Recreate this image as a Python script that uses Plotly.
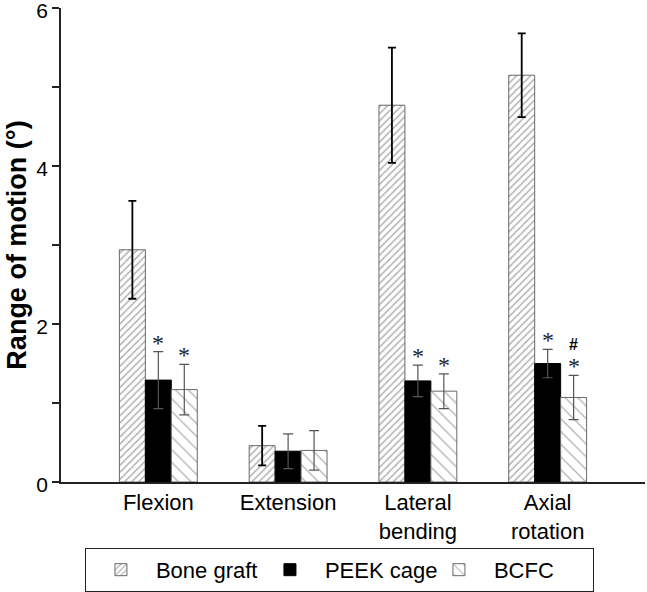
import plotly.graph_objects as go

categories = ["Flexion", "Extension", "Lateral<br>bending", "Axial<br>rotation"]
series_names = ["Bone graft", "PEEK cage", "BCFC"]
bone_graft = [2.94, 0.46, 4.77, 5.15]
bone_graft_err = [0.62, 0.25, 0.73, 0.53]
peek_cage = [1.29, 0.39, 1.28, 1.50]
peek_cage_err = [0.36, 0.22, 0.20, 0.18]
bcfc = [1.17, 0.40, 1.15, 1.07]
bcfc_err = [0.32, 0.25, 0.22, 0.28]
# significance marks: (series index, category index)
star_marks = [(1, 0), (2, 0), (1, 2), (2, 2), (1, 3), (2, 3)]
hash_marks = [(2, 3)]
y_ticks = [0, 2, 4, 6]

FONT = "Liberation Sans, Arial, sans-serif"
xi = list(range(len(categories)))

fig = go.Figure()
fig.add_trace(go.Bar(
    name=series_names[0], x=xi, y=bone_graft,
    marker=dict(color="white", line=dict(color="#6a6a6a", width=1),
                pattern=dict(shape="/", fgcolor="#666666", bgcolor="white", size=5, solidity=0.3)),
    error_y=dict(type="data", array=bone_graft_err, color="black", thickness=1.8, width=4),
))
fig.add_trace(go.Bar(
    name=series_names[1], x=xi, y=peek_cage,
    marker=dict(color="black", line=dict(color="black", width=1)),
    error_y=dict(type="data", array=peek_cage_err, color="#555555", thickness=1.2, width=5),
))
fig.add_trace(go.Bar(
    name=series_names[2], x=xi, y=bcfc,
    marker=dict(color="white", line=dict(color="#6a6a6a", width=1),
                pattern=dict(shape="\\", fgcolor="#666666", bgcolor="white", size=9, solidity=0.15)),
    error_y=dict(type="data", array=bcfc_err, color="#555555", thickness=1.2, width=5),
))

vals = [bone_graft, peek_cage, bcfc]
errs = [bone_graft_err, peek_cage_err, bcfc_err]
offsets = [-0.2, 0.0, 0.2]
for s, c in star_marks:
    fig.add_annotation(x=c + offsets[s], y=vals[s][c] + errs[s][c], text="*",
                       showarrow=False, yanchor="bottom", yshift=-6,
                       font=dict(family="Liberation Serif, Times New Roman, serif", size=24, color="#222222"))
for s, c in hash_marks:
    fig.add_annotation(x=c + offsets[s], y=vals[s][c] + errs[s][c], text="<b>#</b>",
                       showarrow=False, yanchor="bottom", yshift=20,
                       font=dict(family=FONT, size=16, color="black"))

fig.update_layout(
    width=647, height=592,
    margin=dict(l=61, r=2, t=8, b=110, autoexpand=False),
    plot_bgcolor="white", paper_bgcolor="white",
    barmode="group", bargap=0.4, bargroupgap=0,
    font=dict(family=FONT, size=20, color="black"),
    showlegend=True,
    legend=dict(orientation="h", x=0.041, xanchor="left", y=-0.139, yanchor="top",
                bordercolor="#222222", borderwidth=1, font=dict(size=22),
                itemwidth=60, entrywidth=94, traceorder="normal"),
)
fig.update_xaxes(
    range=[-0.75, 3.75], tickvals=xi, ticktext=categories,
    showline=True, linecolor="#222222", linewidth=2, ticks="", showgrid=False,
    zeroline=False, tickfont=dict(size=22), automargin=False,
)
fig.update_yaxes(
    range=[0, 6.001], tickvals=y_ticks, ticks="outside", ticklen=7, tickwidth=1.5, tickcolor="#222222",
    minor=dict(dtick=1, ticks="outside", ticklen=7, tickwidth=1.5, tickcolor="#222222"),
    showline=True, linecolor="#222222", linewidth=1.5, showgrid=False, zeroline=False,
    tickfont=dict(size=21), automargin=False, ticklabeloverflow="allow", ticklabelshift=3,
    title=dict(text="<b>Range of motion (°)</b>", font=dict(size=27), standoff=2),
)

fig.write_html("out.html", config={"displayModeBar": False},
               post_script="document.body.style.margin='0';")
